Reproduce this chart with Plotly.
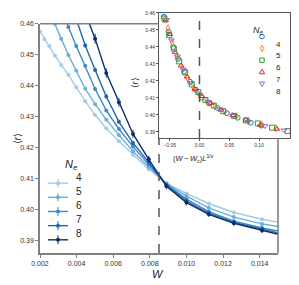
import plotly.graph_objects as go

# ---------------- data (main panel) ----------------
W = [0.00200, 0.00224, 0.00251, 0.00282, 0.00316, 0.00355, 0.00398, 0.00447, 0.00501,
     0.00562, 0.00631, 0.00708, 0.00794, 0.00891, 0.01000, 0.01122, 0.01259, 0.01413, 0.01585]
r_N4 = [0.4575, 0.4551, 0.4528, 0.4497, 0.4467, 0.4435, 0.4395, 0.4350, 0.4305,
        0.4262, 0.4220, 0.4176, 0.4130, 0.4085, 0.4051, 0.4019, 0.3990, 0.3968, 0.3950]
r_N5 = [None, None, 0.4640, 0.4600, 0.4552, 0.4499, 0.4448, 0.4390, 0.4340,
        0.4290, 0.4240, 0.4188, 0.4137, 0.4083, 0.4043, 0.4005, 0.3975, 0.3953, 0.3937]
r_N6 = [None, None, None, None, 0.4655, 0.4590, 0.4528, 0.4464, 0.4389,
        0.4320, 0.4260, 0.4203, 0.4145, 0.4080, 0.4033, 0.3993, 0.3962, 0.3940, 0.3920]
r_N7 = [None, None, None, None, None, 0.4690, 0.4618, 0.4530, 0.4451,
        0.4365, 0.4283, 0.4215, 0.4152, 0.4078, 0.4027, 0.3988, 0.3958, 0.3936, 0.3912]
r_N8 = [None, None, None, None, None, None, None, 0.4635, 0.4552,
        0.4441, 0.4346, 0.4244, 0.4162, 0.4075, 0.4022, 0.3984, 0.3955, 0.3932, 0.3907]
err_N4 = [0.0003] * 19
err_N5 = [0.0004] * 19
err_N6 = [0.0005] * 19
err_N7 = [0.0007] * 19
err_N8 = [0.0016, 0.0016, 0.0016, 0.0016, 0.0016, 0.0016, 0.0016, 0.0016, 0.0016,
          0.0015, 0.0014, 0.0013, 0.0011, 0.0010, 0.0009, 0.0008, 0.0008, 0.0008, 0.0008]
N_labels = ["4", "5", "6", "7", "8"]
W_c = 0.0085

# ---------------- data (inset, scaling collapse) ----------------
xs_N4 = [-0.060, -0.052, -0.044, -0.036, -0.026, -0.016, -0.006, 0.004, 0.016, 0.030, 0.046, 0.064, 0.086, 0.104]
ys_N4 = [0.4578, 0.4490, 0.4400, 0.4330, 0.4255, 0.4195, 0.4148, 0.4102, 0.4068, 0.4042, 0.4010, 0.3984, 0.3955, 0.3938]
xs_N5 = [-0.058, -0.053, -0.046, -0.038, -0.029, -0.020, -0.010, 0.000, 0.012, 0.026, 0.042, 0.062, 0.082, 0.104, 0.128]
ys_N5 = [0.4565, 0.4510, 0.4425, 0.4345, 0.4275, 0.4218, 0.4160, 0.4118, 0.4082, 0.4050, 0.4020, 0.3992, 0.3965, 0.3945, 0.3922]
xs_N6 = [-0.059, -0.051, -0.043, -0.034, -0.024, -0.013, -0.002, 0.010, 0.024, 0.040, 0.058, 0.078, 0.098, 0.122, 0.148]
ys_N6 = [0.4568, 0.4470, 0.4390, 0.4315, 0.4250, 0.4180, 0.4135, 0.4088, 0.4055, 0.4022, 0.3995, 0.3968, 0.3950, 0.3925, 0.3905]
xs_N7 = [-0.057, -0.050, -0.041, -0.031, -0.021, -0.008, 0.004, 0.019, 0.036, 0.056, 0.078, 0.102, 0.130]
ys_N7 = [0.4555, 0.4475, 0.4370, 0.4290, 0.4225, 0.4152, 0.4110, 0.4070, 0.4030, 0.3998, 0.3970, 0.3942, 0.3918]
xs_N8 = [-0.055, -0.047, -0.037, -0.027, -0.014, 0.000, 0.015, 0.034, 0.056, 0.082, 0.110, 0.142]
ys_N8 = [0.4560, 0.4440, 0.4345, 0.4268, 0.4190, 0.4122, 0.4078, 0.4035, 0.3995, 0.3960, 0.3935, 0.3910]

# ---------------- layout helpers ----------------
FW, FH = 299, 285
ML, MR, MT, MB = 40, 8, 8, 32
AW, AH = FW - ML - MR, FH - MT - MB


def px(x):
    return (x - ML) / AW


def py(y):
    return (FH - MB - y) / AH


FONT = "Liberation Sans, Arial, sans-serif"
blues = ["#a3cbe4", "#6baed6", "#3f89c5", "#2166ac", "#0b2d6b"]
tab = ["#1f77b4", "#ff7f0e", "#2ca02c", "#d62728", "#9467bd"]
inset_syms = ["circle-open", "diamond-tall-open", "square-open", "triangle-up-open", "triangle-down-open"]

fig = go.Figure()

main_r = [r_N4, r_N5, r_N6, r_N7, r_N8]
main_e = [err_N4, err_N5, err_N6, err_N7, err_N8]
for i in range(5):
    fig.add_trace(go.Scatter(
        x=W, y=main_r[i], mode="lines+markers", name=N_labels[i],
        line=dict(color=blues[i], width=1.4),
        marker=dict(color=blues[i], size=4),
        error_y=dict(type="data", array=main_e[i], color=blues[i], thickness=1, width=0),
        xaxis="x", yaxis="y", showlegend=False,
    ))

ins_x = [xs_N4, xs_N5, xs_N6, xs_N7, xs_N8]
ins_y = [ys_N4, ys_N5, ys_N6, ys_N7, ys_N8]
for i in range(5):
    fig.add_trace(go.Scatter(
        x=ins_x[i], y=ins_y[i], mode="markers", name=N_labels[i],
        marker=dict(symbol=inset_syms[i], color=tab[i], size=5, line=dict(width=1, color=tab[i])),
        xaxis="x2", yaxis="y2", showlegend=False,
    ))

shapes = []
annotations = []


def pline(x0, y0, x1, y1, color, width, dash="solid"):
    shapes.append(dict(type="line", xref="paper", yref="paper", x0=px(x0), y0=py(y0), x1=px(x1), y1=py(y1),
                       line=dict(color=color, width=width, dash=dash)))


def ppath(pts, color):
    d = "M " + " L ".join("%.5f,%.5f" % (px(a), py(b)) for a, b in pts) + " Z"
    shapes.append(dict(type="path", xref="paper", yref="paper", path=d, line=dict(color=color, width=1)))


# main legend glyphs
LEG_Y0, LEG_DY = 182, 14.4
for i in range(5):
    yy = LEG_Y0 + i * LEG_DY
    pline(48, yy, 68, yy, blues[i], 1.4)
    pline(58, yy - 4.5, 58, yy + 4.5, blues[i], 1)
    shapes.append(dict(type="circle", xref="paper", yref="paper", x0=px(56), x1=px(60), y0=py(yy + 2), y1=py(yy - 2),
                       fillcolor=blues[i], line=dict(color=blues[i], width=0)))

# inset legend glyphs
cx = 262
IL_Y0, IL_DY = 33, 12
for i in range(5):
    cy = IL_Y0 + i * IL_DY
    c = tab[i]
    if i == 0:
        shapes.append(dict(type="circle", xref="paper", yref="paper", x0=px(cx - 2.3), x1=px(cx + 2.3),
                           y0=py(cy + 2.3), y1=py(cy - 2.3), line=dict(color=c, width=1)))
    elif i == 1:
        ppath([(cx, cy - 3), (cx + 1.8, cy), (cx, cy + 3), (cx - 1.8, cy)], c)
    elif i == 2:
        ppath([(cx - 2.2, cy - 2.2), (cx + 2.2, cy - 2.2), (cx + 2.2, cy + 2.2), (cx - 2.2, cy + 2.2)], c)
    elif i == 3:
        ppath([(cx, cy - 2.8), (cx + 2.6, cy + 1.8), (cx - 2.6, cy + 1.8)], c)
    else:
        ppath([(cx, cy + 2.8), (cx + 2.6, cy - 1.8), (cx - 2.6, cy - 1.8)], c)

annotations.append(dict(x=px(63), y=py(164), xref="paper", yref="paper", text="<i>N</i><sub><i>e</i></sub>",
                        showarrow=False, font=dict(size=11, color="#222", family=FONT)))
annotations.append(dict(x=px(266), y=py(19), xref="paper", yref="paper", text="<i>N</i><sub><i>e</i></sub>",
                        showarrow=False, font=dict(size=9, color="#222", family=FONT)))
for i in range(5):
    annotations.append(dict(x=px(74), y=py(LEG_Y0 + 1.5 + i * LEG_DY), xref="paper", yref="paper", text=N_labels[i],
                            xanchor="left", showarrow=False, font=dict(size=10, color="#222", family=FONT)))
    annotations.append(dict(x=px(274), y=py(IL_Y0 + 1 + i * IL_DY), xref="paper", yref="paper", text=N_labels[i],
                            xanchor="left", showarrow=False, font=dict(size=8, color="#222", family=FONT)))

# axis titles
annotations.append(dict(x=px(10), y=py(137), xref="paper", yref="paper", text="⟨<i>r</i>⟩", textangle=-90,
                        showarrow=False, font=dict(size=10, color="#222", family=FONT)))
annotations.append(dict(x=px(158), y=py(266), xref="paper", yref="paper", yanchor="top", text="<i>W</i>",
                        showarrow=False, font=dict(size=11, color="#222", family=FONT)))
annotations.append(dict(x=px(135), y=py(73), xref="paper", yref="paper", text="⟨<i>r</i>⟩", textangle=-90,
                        showarrow=False, font=dict(size=9, color="#222", family=FONT)))
annotations.append(dict(x=px(216), y=py(157), xref="paper", yref="paper",
                        text="(<i>W</i>\u2009−\u2009<i>W</i><sub><i>c</i></sub>)<i>L</i><sup>1/<i>ν</i></sup>",
                        showarrow=False, font=dict(size=7.5, color="#222", family=FONT)))

inset_bottom = py(136)
inset_top = py(9)
# critical disorder in main panel (visible below the inset)
shapes.append(dict(type="line", xref="x", yref="paper", x0=W_c, x1=W_c, y0=0, y1=inset_bottom,
                   line=dict(color="#555", width=1.5, dash="dash")))
# critical point in inset
shapes.append(dict(type="line", xref="x2", yref="paper", x0=0, x1=0, y0=inset_bottom, y1=inset_top,
                   line=dict(color="#555", width=1.5, dash="dash")))
# remaining main-panel frame (top edge left of the inset, right edge below it)
pline(40, 20, 159, 20, "#808080", 1.6)
pline(278, 136, 278, 253, "#808080", 1.6)

fig.update_layout(
    width=FW, height=FH,
    margin=dict(l=ML, r=MR, t=MT, b=MB),
    paper_bgcolor="white", plot_bgcolor="white",
    font=dict(family=FONT, color="#333"),
    xaxis=dict(domain=[0, px(278)], range=[0.002, 0.015], anchor="y",
               tickvals=[0.002, 0.004, 0.006, 0.008, 0.010, 0.012, 0.014],
               ticktext=["0.002", "0.004", "0.006", "0.008", "0.010", "0.012", "0.014"],
               showgrid=False, zeroline=False, showline=True, linecolor="#808080", linewidth=1.6,
               ticks="outside", ticklen=3, tickcolor="#808080", tickfont=dict(size=7, color="#333")),
    yaxis=dict(domain=[0, py(20)], range=[0.3859, 0.46], anchor="x",
               tickvals=[0.39, 0.40, 0.41, 0.42, 0.43, 0.44, 0.45, 0.46],
               ticktext=["0.39", "0.40", "0.41", "0.42", "0.43", "0.44", "0.45", "0.46"],
               showgrid=False, zeroline=False, showline=True, linecolor="#808080", linewidth=1.6,
               ticks="outside", ticklen=3, tickcolor="#808080", tickfont=dict(size=7, color="#333")),
    xaxis2=dict(domain=[px(159), px(290)], range=[-0.068, 0.152], anchor="y2",
                tickvals=[-0.05, 0.0, 0.05, 0.10], ticktext=["−0.05", "0.00", "0.05", "0.10"],
                showgrid=False, zeroline=False, showline=True, mirror=True, linecolor="#555", linewidth=1,
                ticks="outside", ticklen=2, tickcolor="#555", tickfont=dict(size=5, color="#333")),
    yaxis2=dict(domain=[py(136), py(9)], range=[0.3865, 0.46], anchor="x2",
                tickvals=[0.39, 0.40, 0.41, 0.42, 0.43, 0.44, 0.45, 0.46],
                ticktext=["0.39", "0.40", "0.41", "0.42", "0.43", "0.44", "0.45", "0.46"],
                showgrid=False, zeroline=False, showline=True, mirror=True, linecolor="#555", linewidth=1,
                ticks="outside", ticklen=2, tickcolor="#555", tickfont=dict(size=5, color="#333")),
    shapes=shapes,
    annotations=annotations,
    showlegend=False,
)

fig.write_html("out.html", config={"displayModeBar": False},
               post_script="document.body.style.margin='0px';")
